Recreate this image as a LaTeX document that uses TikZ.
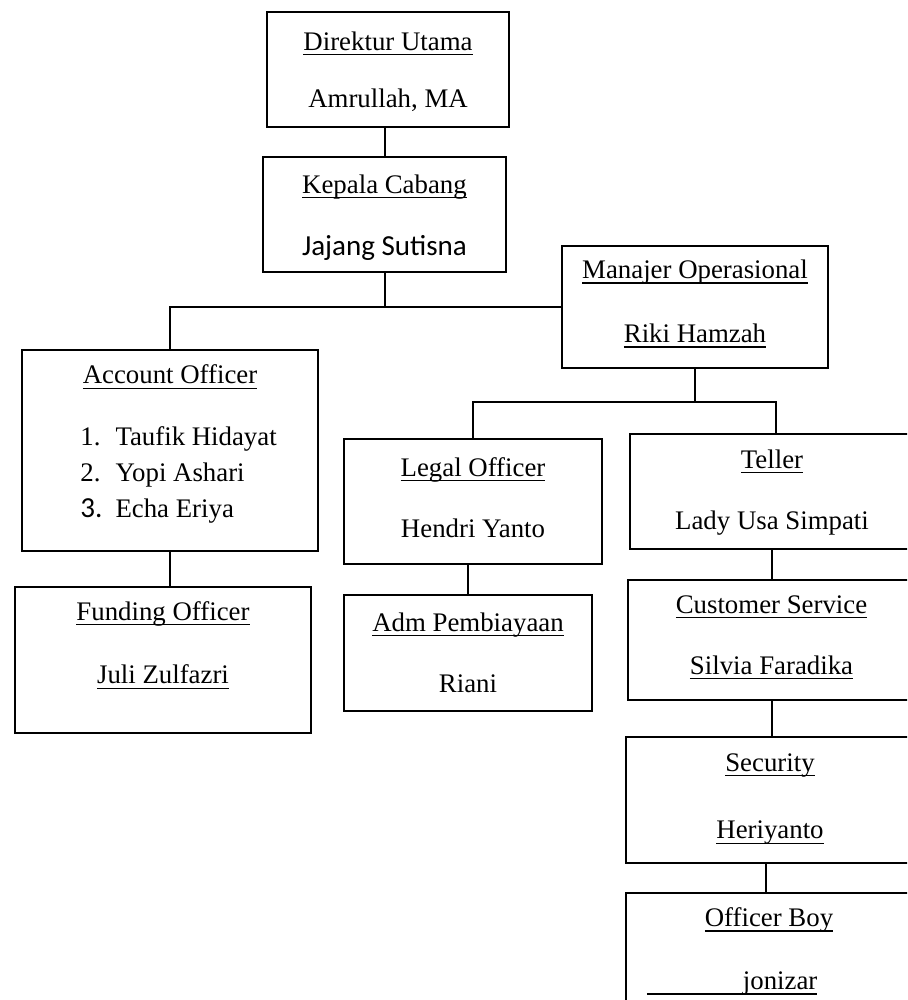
\documentclass[tikz,border=0pt]{standalone}
\usepackage{fontspec}
\setmainfont{Liberation Serif}
\newfontfamily\calibri{Carlito}
\usetikzlibrary{calc}

\newsavebox\undlbox
\newcommand{\undl}[1]{\sbox\undlbox{#1}\rlap{\rule[-2.2pt]{\wd\undlbox}{0.6pt}}\usebox\undlbox}

\tikzset{
  box/.style={draw,line width=1pt,inner sep=0pt},
  txt/.style={align=center,font=\fontsize{12}{14}\selectfont},
  conn/.style={line width=0.9pt}
}

\begin{document}
\begin{tikzpicture}[x=0.4475pt,y=-0.4475pt]
\useasboundingbox (0,0) rectangle (907,1000);
\clip (0,0) rectangle (907,1000);

% boxes
\node[box,minimum width=108.3pt,minimum height=51.5pt](dir) at (388,69.5){};
\node[box,minimum width=108.7pt,minimum height=51.5pt](kc) at (384.5,214.5){};
\node[box,minimum width=119pt,minimum height=54.6pt](mo) at (695,307){};
\node[box,minimum width=132.5pt,minimum height=89.9pt](ao) at (170,450.5){};
\node[box,minimum width=132.5pt,minimum height=65.3pt](fo) at (163,660){};
\node[box,minimum width=115.5pt,minimum height=55.9pt](lo) at (473,501.5){};
\node[box,minimum width=111pt,minimum height=51.9pt](adm) at (468,653){};
\node[box,minimum width=127.5pt,minimum height=51.5pt](tel) at (772.5,491.5){};
\node[box,minimum width=128.4pt,minimum height=53.7pt](cs) at (771.5,640){};
\node[box,minimum width=129.3pt,minimum height=56.4pt](sec) at (770.5,800){};
\node[box,minimum width=129.3pt,minimum height=74.7pt](ob) at (770.5,976.5){};

% texts
\node[txt](dir-t) at (388,71.5){\undl{Direktur Utama}\\[11.5pt]Amrullah, MA};
\node[txt](kc-t) at (384.5,217.5){\undl{Kepala Cabang}\\[14pt]{\calibri\fontsize{13}{15}\selectfont Jajang Sutisna}};
\node[txt](mo-t) at (695,304){\undl{Manajer Operasional}\\[14.6pt]\undl{Riki Hamzah}};
\node[txt](ao-t) at (170,377){\undl{Account Officer}};
\node[txt,align=left,anchor=west,inner sep=0pt](ao-l) at (80,475){%
\makebox[15.7pt][l]{1.}Taufik Hidayat\\[2.1pt]
\makebox[15.7pt][l]{2.}Yopi Ashari\\[2.1pt]
\makebox[15.7pt][l]{{\calibri\fontsize{13}{15}\selectfont 3.}}Echa Eriya};
\node[txt](fo-t) at (163,645){\undl{Funding Officer}\\[14.6pt]\undl{Juli Zulfazri}};
\node[txt](lo-t) at (473,497.5){\undl{Legal Officer}\\[13.3pt]Hendri Yanto};
\node[txt](adm-t) at (468,652.5){\undl{Adm Pembiayaan}\\[13.3pt]Riani};
\node[txt](tel-t) at (772,492.5){\undl{Teller}\\[13.3pt]Lady Usa Simpati};
\node[txt](cs-t) at (771.5,637.5){\undl{Customer Service}\\[13.3pt]\undl{Silvia Faradika}};
\node[txt](sec-t) at (770,799){\undl{Security}\\[16.4pt]\undl{Heriyanto}};
\node[txt](ob-t) at (769,951.5){\undl{Officer Boy}\\[14.2pt]\undl{\hspace{43pt}jonizar}\makebox[33pt]{}};

% lines
\draw[conn](kc.north)--(kc.north |- dir.south);
\draw[conn](kc.south)--(kc.south |- mo.west);
\draw[conn](ao.north)|-(mo.west);
\draw[conn](ao.south)--(ao.south |- fo.north);
\path(mo.south)++(0,33)coordinate(split);
\draw[conn](mo.south)--(split);
\draw[conn](lo.north)|-(split)-|([xshift=1.6pt]tel.north);
\draw[conn](adm.north)--(adm.north |- lo.south);
\draw[conn](cs.north)--(cs.north |- tel.south);
\draw[conn](cs.south)--(cs.south |- sec.north);
\draw[conn]([xshift=-2pt]sec.south)--([xshift=-2pt]sec.south |- ob.north);
\end{tikzpicture}
\end{document}
